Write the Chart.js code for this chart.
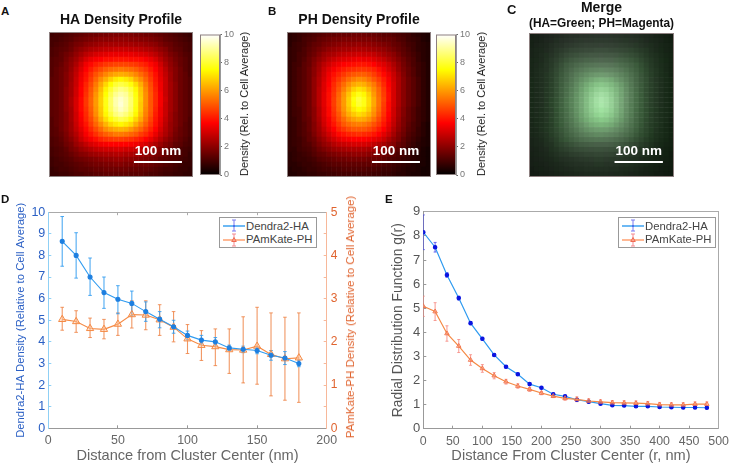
<!DOCTYPE html>
<html>
<head>
<meta charset="utf-8">
<script src="https://cdn.jsdelivr.net/npm/chart.js@4/dist/chart.umd.js"></script>
<style>
  html, body { margin: 0; padding: 0; background: #fff; }
  body { width: 737px; height: 463px; position: relative; overflow: hidden; font-family: "Liberation Sans", Arial, sans-serif; }
  canvas { position: absolute; }
  .mapa { filter: blur(0.5px); }
  .letra { position: absolute; font-weight: bold; color: #111; font-size: 11.5px; line-height: 12px; }
  .vlabel { position: absolute; white-space: nowrap; transform: translate(-50%, -50%) rotate(-90deg); }
  .legenda { position: absolute; box-sizing: border-box; background: #fff; border: 1px solid #999; width: 98px; height: 31px; font-size: 11.3px; color: #444; z-index: 5; }
  .legenda div { position: absolute; left: 26px; line-height: 13px; white-space: nowrap; }
  .legenda svg { position: absolute; left: 2px; top: 0; }
</style>
</head>
<body>
<canvas id="heatA" class="mapa" width="153" height="178" style="left:49px;top:0"></canvas>
<canvas id="barA" width="56" height="160" style="left:200px;top:25px"></canvas>
<canvas id="heatB" class="mapa" width="150" height="178" style="left:287px;top:0"></canvas>
<canvas id="barB" width="56" height="160" style="left:436px;top:25px"></canvas>
<canvas id="heatC" class="mapa" width="148" height="178" style="left:529px;top:0"></canvas>
<canvas id="chartD" width="365" height="265" style="left:0;top:198px"></canvas>
<canvas id="chartE" width="367" height="265" style="left:370px;top:198px"></canvas>

<div class="letra" style="left:1px;top:5px">A</div>
<div class="letra" style="left:268px;top:5px">B</div>
<div class="letra" style="left:507px;top:4px;font-size:13px">C</div>
<div class="letra" style="left:1px;top:193px">D</div>
<div class="letra" style="left:385px;top:193px">E</div>

<div class="vlabel" style="left:244px;top:104px;font-size:11px;color:#222">Density (Rel. to Cell Average)</div>
<div class="vlabel" style="left:481px;top:104px;font-size:11px;color:#222">Density (Rel. to Cell Average)</div>
<div class="vlabel" style="left:350px;top:317px;font-size:11.5px;color:#e0642f">PAmKate-PH Density (Relative to Cell Average)</div>

<div class="legenda" style="left:219px;top:217px">
  <svg width="24" height="29"><line x1="1" x2="23" y1="8" y2="8" stroke="#2f9bf0" stroke-width="1.4"/><path d="M12 2V13M10 2H14M10 13H14" stroke="#7a7af0" stroke-width="1" fill="none"/><circle cx="12" cy="8" r="0.8" fill="#2040e0"/>
  <line x1="1" x2="23" y1="22" y2="22" stroke="#ff9a66" stroke-width="1.4"/><path d="M12 16V28M10 16H14M10 28H14" stroke="#f58a90" stroke-width="1" fill="none"/><path d="M12 19.5L14.3 23.5H9.7Z" stroke="#f06a50" fill="none"/></svg>
  <div style="top:2px">Dendra2-HA</div>
  <div style="top:15px">PAmKate-PH</div>
</div>
<div class="legenda" style="left:618px;top:217px">
  <svg width="24" height="29"><line x1="1" x2="23" y1="8" y2="8" stroke="#2f9bf0" stroke-width="1.4"/><path d="M12 2V13M10 2H14M10 13H14" stroke="#7a7af0" stroke-width="1" fill="none"/><circle cx="12" cy="8" r="0.8" fill="#2040e0"/>
  <line x1="1" x2="23" y1="22" y2="22" stroke="#ff9a66" stroke-width="1.4"/><path d="M12 16V28M10 16H14M10 28H14" stroke="#f58a90" stroke-width="1" fill="none"/><path d="M12 19.5L14.3 23.5H9.7Z" stroke="#f06a50" fill="none"/></svg>
  <div style="top:2px">Dendra2-HA</div>
  <div style="top:15px">PAmKate-PH</div>
</div>

<script>
// painel D
var distD = [10,20,30,40,50,60,70,80,90,100,110,120,130,140,150,160,170,180];
var haD = [8.65,8.0,7.0,6.28,5.97,5.78,5.4,5.05,4.7,4.3,4.08,4.0,3.72,3.66,3.6,3.38,3.25,3.0];
var haLow = [7.5,6.95,6.15,5.55,5.3,5.2,4.95,4.65,4.4,4.1,3.9,3.85,3.6,3.5,3.45,3.15,2.95,2.85];
var haHigh = [9.8,9.05,7.88,7.0,6.6,6.35,5.85,5.4,5.0,4.5,4.3,4.2,3.85,3.8,3.75,3.6,3.55,3.15];
var phD = [2.52,2.47,2.31,2.29,2.41,2.63,2.62,2.51,2.34,2.07,1.92,1.89,1.82,1.81,1.9,1.71,1.61,1.63];
var phLow = [2.27,2.22,2.1,2.07,2.15,2.32,2.28,2.15,2.0,1.73,1.57,1.45,1.27,1.05,1.02,0.75,0.65,0.6];
var phHigh = [2.8,2.72,2.55,2.52,2.67,2.95,2.95,2.86,2.7,2.4,2.26,2.3,2.3,2.58,2.8,2.67,2.57,2.67];

// painel E
var distE = [0,20,40,60,80,100,120,140,160,180,200,220,240,260,280,300,320,340,360,380,400,420,440,460,480];
var haE = [8.15,7.53,6.38,5.42,4.38,3.73,3.06,2.57,2.26,1.85,1.7,1.43,1.34,1.2,1.12,1.04,0.97,0.96,0.93,0.93,0.9,0.89,0.88,0.88,0.87];
var haErrE = [0.72,0.2,0.1,0.08,0.06,0.06,0.05,0.05,0.05,0.05,0.04,0.04,0.04,0.04,0.04,0.04,0.04,0.04,0.03,0.03,0.03,0.03,0.03,0.03,0.03];
var phE = [5.08,4.86,3.95,3.43,2.85,2.5,2.2,1.95,1.77,1.63,1.48,1.35,1.26,1.22,1.15,1.11,1.08,1.07,1.06,1.04,1.0,0.99,0.99,1.02,1.02];
var phErrE = [0.42,0.37,0.32,0.27,0.22,0.16,0.13,0.1,0.09,0.08,0.07,0.06,0.08,0.1,0.09,0.09,0.09,0.09,0.09,0.09,0.09,0.09,0.09,0.09,0.09];

// mapas de densidade (29 x 29, de cima para baixo)
var densidadeHA = [
[0.9,1.0,1.0,1.1,1.2,1.3,1.4,1.5,1.6,1.6,1.7,1.7,1.8,1.8,1.8,1.8,1.8,1.7,1.7,1.6,1.6,1.5,1.4,1.3,1.2,1.1,1.0,0.9,0.8],
[1.0,1.0,1.1,1.2,1.3,1.5,1.6,1.7,1.8,1.9,2.0,2.0,2.0,2.1,2.1,2.1,2.0,2.0,1.9,1.9,1.8,1.7,1.6,1.4,1.3,1.2,1.1,1.0,0.9],
[1.0,1.1,1.2,1.3,1.5,1.7,1.8,2.0,2.1,2.2,2.3,2.4,2.4,2.4,2.4,2.4,2.4,2.3,2.3,2.2,2.1,2.0,1.8,1.6,1.5,1.3,1.2,1.1,1.0],
[1.1,1.2,1.3,1.4,1.6,1.9,2.1,2.3,2.5,2.6,2.7,2.8,2.8,2.9,2.9,2.9,2.8,2.8,2.7,2.6,2.5,2.3,2.1,1.9,1.6,1.4,1.3,1.1,1.0],
[1.1,1.2,1.4,1.6,1.8,2.1,2.4,2.7,2.9,3.1,3.2,3.3,3.4,3.4,3.4,3.4,3.4,3.3,3.2,3.1,2.9,2.7,2.4,2.1,1.8,1.6,1.4,1.2,1.1],
[1.2,1.3,1.4,1.7,2.0,2.3,2.7,3.1,3.4,3.6,3.7,3.9,3.9,4.0,4.0,4.0,3.9,3.9,3.8,3.6,3.4,3.1,2.7,2.3,2.0,1.7,1.5,1.3,1.1],
[1.2,1.3,1.5,1.8,2.1,2.5,3.0,3.5,3.8,4.1,4.3,4.5,4.6,4.7,4.7,4.7,4.6,4.5,4.3,4.1,3.8,3.5,3.0,2.5,2.1,1.8,1.5,1.3,1.1],
[1.2,1.4,1.6,1.8,2.2,2.7,3.2,3.7,4.1,4.5,4.8,5.1,5.3,5.4,5.5,5.4,5.3,5.1,4.8,4.5,4.1,3.7,3.2,2.7,2.2,1.9,1.6,1.3,1.1],
[1.2,1.4,1.6,1.9,2.3,2.8,3.4,3.9,4.4,4.9,5.3,5.7,6.0,6.2,6.3,6.2,6.0,5.7,5.3,4.9,4.4,3.9,3.3,2.8,2.3,1.9,1.6,1.4,1.1],
[1.3,1.4,1.6,1.9,2.3,2.9,3.5,4.0,4.6,5.2,5.8,6.3,6.8,7.2,7.4,7.2,6.9,6.3,5.8,5.2,4.6,4.0,3.4,2.9,2.3,1.9,1.6,1.4,1.2],
[1.3,1.4,1.6,1.9,2.4,2.9,3.6,4.2,4.8,5.5,6.2,6.9,7.5,8.0,8.2,8.0,7.6,7.0,6.3,5.5,4.8,4.1,3.5,2.9,2.4,2.0,1.6,1.4,1.2],
[1.3,1.4,1.6,2.0,2.4,3.0,3.7,4.3,5.0,5.7,6.5,7.3,8.0,8.5,8.8,8.6,8.1,7.4,6.6,5.7,4.9,4.2,3.5,2.9,2.4,2.0,1.6,1.4,1.2],
[1.3,1.4,1.6,2.0,2.4,3.0,3.7,4.4,5.1,5.9,6.7,7.5,8.3,8.9,9.2,9.0,8.4,7.6,6.7,5.8,5.0,4.3,3.6,2.9,2.4,2.0,1.6,1.4,1.2],
[1.3,1.4,1.6,2.0,2.5,3.1,3.8,4.5,5.2,6.0,6.8,7.7,8.5,9.2,9.5,9.2,8.6,7.7,6.8,5.8,5.0,4.3,3.6,3.0,2.4,2.0,1.6,1.4,1.2],
[1.3,1.4,1.6,2.0,2.5,3.1,3.8,4.5,5.2,6.0,6.8,7.7,8.5,9.2,9.6,9.2,8.6,7.7,6.7,5.8,5.0,4.3,3.6,2.9,2.4,2.0,1.6,1.4,1.2],
[1.3,1.4,1.6,2.0,2.4,3.1,3.8,4.4,5.1,5.9,6.7,7.6,8.4,9.0,9.4,9.1,8.5,7.6,6.7,5.7,5.0,4.2,3.5,2.9,2.4,2.0,1.6,1.4,1.2],
[1.3,1.4,1.6,1.9,2.4,3.0,3.7,4.3,5.0,5.8,6.6,7.4,8.1,8.7,9.0,8.7,8.2,7.4,6.5,5.6,4.9,4.1,3.5,2.9,2.3,1.9,1.6,1.4,1.2],
[1.2,1.4,1.6,1.9,2.4,3.0,3.6,4.2,4.8,5.5,6.3,7.0,7.6,8.0,8.3,8.1,7.6,6.9,6.2,5.4,4.7,4.0,3.4,2.8,2.3,1.9,1.6,1.4,1.1],
[1.2,1.4,1.6,1.9,2.3,2.9,3.5,4.0,4.6,5.2,5.8,6.4,6.9,7.2,7.4,7.2,6.9,6.3,5.7,5.1,4.5,3.9,3.3,2.7,2.2,1.9,1.6,1.3,1.1],
[1.2,1.3,1.6,1.9,2.3,2.8,3.3,3.8,4.3,4.8,5.3,5.8,6.1,6.3,6.4,6.3,6.0,5.6,5.2,4.7,4.2,3.7,3.1,2.6,2.2,1.8,1.5,1.3,1.1],
[1.2,1.3,1.5,1.8,2.2,2.6,3.1,3.6,4.0,4.4,4.8,5.1,5.3,5.5,5.5,5.4,5.2,5.0,4.6,4.3,3.9,3.4,2.9,2.5,2.1,1.7,1.5,1.3,1.1],
[1.1,1.2,1.4,1.7,2.0,2.4,2.9,3.3,3.6,3.9,4.2,4.4,4.5,4.6,4.6,4.5,4.4,4.2,4.0,3.7,3.4,3.0,2.6,2.2,1.9,1.6,1.4,1.2,1.0],
[1.1,1.2,1.3,1.6,1.8,2.2,2.5,2.8,3.1,3.3,3.5,3.6,3.7,3.7,3.7,3.7,3.6,3.5,3.3,3.1,2.8,2.5,2.2,1.9,1.7,1.4,1.3,1.1,1.0],
[1.0,1.1,1.2,1.4,1.7,1.9,2.2,2.4,2.6,2.8,2.9,3.0,3.0,3.1,3.1,3.0,3.0,2.9,2.7,2.5,2.4,2.1,1.9,1.7,1.5,1.3,1.1,1.0,0.9],
[1.0,1.1,1.2,1.3,1.5,1.7,1.9,2.0,2.2,2.3,2.4,2.5,2.5,2.6,2.6,2.5,2.5,2.4,2.3,2.1,2.0,1.8,1.7,1.5,1.3,1.2,1.1,1.0,0.8],
[0.9,1.0,1.1,1.2,1.3,1.5,1.6,1.7,1.8,1.9,2.0,2.1,2.1,2.2,2.2,2.1,2.1,2.0,1.9,1.8,1.7,1.6,1.4,1.3,1.2,1.1,1.0,0.9,0.8],
[0.9,1.0,1.0,1.1,1.2,1.3,1.4,1.5,1.6,1.7,1.7,1.8,1.8,1.9,1.9,1.8,1.8,1.7,1.6,1.6,1.5,1.4,1.3,1.2,1.1,1.0,0.9,0.8,0.8],
[0.8,0.9,1.0,1.0,1.1,1.2,1.3,1.3,1.4,1.5,1.5,1.6,1.6,1.6,1.6,1.6,1.5,1.5,1.4,1.4,1.3,1.2,1.1,1.0,1.0,0.9,0.8,0.8,0.7],
[0.8,0.8,0.9,0.9,1.0,1.1,1.1,1.2,1.2,1.3,1.3,1.4,1.4,1.4,1.4,1.4,1.3,1.3,1.3,1.2,1.1,1.1,1.0,0.9,0.9,0.8,0.8,0.7,0.7]
];

var densidadePH = [
[0.6,0.7,0.8,0.9,1.0,1.1,1.2,1.3,1.4,1.4,1.5,1.5,1.5,1.6,1.6,1.6,1.5,1.5,1.4,1.3,1.3,1.2,1.1,1.0,0.9,0.7,0.6,0.5,0.4],
[0.6,0.7,0.8,1.0,1.1,1.2,1.4,1.5,1.6,1.7,1.7,1.8,1.8,1.8,1.8,1.8,1.8,1.7,1.6,1.5,1.5,1.4,1.2,1.1,0.9,0.8,0.7,0.5,0.4],
[0.6,0.8,0.9,1.0,1.2,1.4,1.5,1.7,1.8,1.9,2.0,2.1,2.1,2.1,2.2,2.1,2.1,2.0,1.9,1.8,1.7,1.5,1.4,1.2,1.0,0.9,0.7,0.6,0.5],
[0.7,0.8,0.9,1.1,1.3,1.5,1.7,1.9,2.1,2.2,2.3,2.4,2.4,2.5,2.5,2.5,2.4,2.3,2.2,2.1,1.9,1.7,1.5,1.3,1.1,0.9,0.7,0.6,0.5],
[0.7,0.8,1.0,1.1,1.4,1.6,1.9,2.2,2.4,2.5,2.7,2.8,2.9,2.9,3.0,2.9,2.9,2.8,2.6,2.4,2.2,2.0,1.7,1.4,1.2,1.0,0.8,0.6,0.5],
[0.7,0.8,1.0,1.2,1.5,1.8,2.1,2.4,2.7,2.9,3.1,3.2,3.3,3.4,3.5,3.4,3.4,3.2,3.0,2.8,2.5,2.2,1.9,1.6,1.3,1.1,0.8,0.6,0.5],
[0.7,0.9,1.0,1.3,1.5,1.9,2.3,2.7,3.0,3.3,3.5,3.7,3.8,3.9,4.0,4.0,3.9,3.7,3.4,3.2,2.9,2.5,2.1,1.7,1.4,1.1,0.9,0.7,0.5],
[0.7,0.9,1.1,1.3,1.6,2.0,2.4,2.9,3.3,3.6,3.9,4.1,4.3,4.4,4.5,4.5,4.4,4.2,3.9,3.5,3.1,2.7,2.2,1.8,1.5,1.2,0.9,0.7,0.5],
[0.7,0.9,1.1,1.3,1.6,2.0,2.5,3.0,3.5,3.9,4.2,4.5,4.8,5.0,5.1,5.1,4.9,4.6,4.2,3.8,3.4,2.9,2.4,1.9,1.5,1.2,0.9,0.7,0.5],
[0.7,0.9,1.1,1.3,1.6,2.1,2.6,3.1,3.6,4.1,4.5,4.9,5.3,5.6,5.8,5.7,5.4,5.0,4.6,4.1,3.6,3.0,2.5,2.0,1.6,1.3,1.0,0.7,0.5],
[0.7,0.9,1.1,1.3,1.6,2.1,2.6,3.2,3.7,4.3,4.8,5.3,5.8,6.2,6.4,6.3,5.9,5.5,4.9,4.3,3.7,3.1,2.5,2.0,1.6,1.3,1.0,0.7,0.5],
[0.7,0.9,1.1,1.3,1.6,2.1,2.7,3.2,3.8,4.4,5.0,5.6,6.2,6.8,7.1,6.9,6.4,5.8,5.2,4.5,3.8,3.1,2.5,2.0,1.6,1.3,1.0,0.7,0.5],
[0.7,0.9,1.1,1.3,1.6,2.1,2.7,3.3,3.9,4.5,5.2,5.9,6.6,7.3,7.7,7.4,6.8,6.0,5.3,4.6,3.9,3.1,2.5,2.0,1.6,1.3,1.0,0.7,0.5],
[0.7,0.9,1.1,1.3,1.6,2.1,2.7,3.3,3.9,4.6,5.3,6.0,6.8,7.6,8.1,7.7,7.0,6.2,5.4,4.7,3.9,3.1,2.5,2.0,1.6,1.3,1.0,0.7,0.5],
[0.7,0.9,1.1,1.3,1.6,2.1,2.7,3.3,3.9,4.6,5.3,6.0,6.8,7.5,8.0,7.7,7.0,6.2,5.4,4.6,3.8,3.1,2.5,2.0,1.6,1.3,1.0,0.7,0.5],
[0.7,0.9,1.0,1.3,1.6,2.0,2.6,3.2,3.8,4.5,5.2,5.9,6.6,7.2,7.5,7.3,6.8,6.0,5.3,4.5,3.8,3.0,2.4,1.9,1.5,1.2,0.9,0.7,0.5],
[0.7,0.9,1.0,1.3,1.6,2.0,2.6,3.2,3.8,4.4,5.0,5.7,6.3,6.7,7.0,6.8,6.4,5.8,5.1,4.4,3.7,3.0,2.4,1.9,1.5,1.2,0.9,0.7,0.5],
[0.7,0.8,1.0,1.3,1.5,2.0,2.5,3.1,3.6,4.2,4.8,5.3,5.8,6.1,6.3,6.2,5.9,5.4,4.8,4.2,3.6,2.9,2.3,1.8,1.5,1.2,0.9,0.7,0.5],
[0.7,0.8,1.0,1.2,1.5,1.9,2.4,3.0,3.5,4.0,4.5,5.0,5.3,5.5,5.6,5.5,5.3,4.9,4.5,4.0,3.4,2.8,2.2,1.8,1.4,1.1,0.9,0.6,0.4],
[0.7,0.8,1.0,1.2,1.5,1.9,2.3,2.8,3.3,3.7,4.2,4.5,4.8,5.0,5.0,5.0,4.8,4.5,4.1,3.7,3.2,2.6,2.1,1.7,1.3,1.1,0.8,0.6,0.4],
[0.7,0.8,1.0,1.2,1.4,1.8,2.2,2.6,3.0,3.4,3.8,4.0,4.2,4.3,4.4,4.3,4.2,4.0,3.7,3.3,2.9,2.4,1.9,1.6,1.2,1.0,0.8,0.6,0.4],
[0.7,0.8,0.9,1.1,1.4,1.6,2.0,2.3,2.7,3.0,3.3,3.5,3.6,3.7,3.7,3.7,3.6,3.4,3.2,2.9,2.5,2.1,1.8,1.4,1.1,0.9,0.7,0.5,0.4],
[0.7,0.8,0.9,1.1,1.2,1.5,1.8,2.1,2.3,2.6,2.8,2.9,3.0,3.1,3.1,3.1,3.0,2.8,2.6,2.4,2.1,1.9,1.5,1.3,1.0,0.8,0.6,0.5,0.4],
[0.7,0.7,0.9,1.0,1.1,1.3,1.6,1.8,2.0,2.2,2.3,2.4,2.5,2.5,2.5,2.5,2.4,2.3,2.2,2.0,1.8,1.6,1.3,1.1,0.9,0.7,0.6,0.4,0.3],
[0.6,0.7,0.8,0.9,1.0,1.2,1.4,1.5,1.7,1.8,1.9,2.0,2.0,2.1,2.1,2.1,2.0,1.9,1.8,1.6,1.5,1.3,1.1,1.0,0.8,0.6,0.5,0.4,0.3],
[0.6,0.7,0.8,0.8,0.9,1.0,1.2,1.3,1.4,1.5,1.6,1.6,1.7,1.7,1.7,1.7,1.6,1.6,1.5,1.4,1.2,1.1,1.0,0.8,0.7,0.6,0.5,0.4,0.3],
[0.6,0.6,0.7,0.8,0.8,0.9,1.0,1.1,1.2,1.3,1.3,1.4,1.4,1.4,1.4,1.4,1.4,1.3,1.2,1.1,1.0,0.9,0.8,0.7,0.6,0.5,0.4,0.4,0.3],
[0.5,0.6,0.6,0.7,0.8,0.8,0.9,1.0,1.0,1.1,1.1,1.2,1.2,1.2,1.2,1.2,1.1,1.1,1.0,0.9,0.9,0.8,0.7,0.6,0.5,0.5,0.4,0.3,0.3],
[0.5,0.5,0.6,0.6,0.7,0.7,0.8,0.8,0.9,0.9,1.0,1.0,1.0,1.0,1.0,1.0,1.0,0.9,0.9,0.8,0.8,0.7,0.6,0.6,0.5,0.4,0.4,0.3,0.3]
];

var barraEscalaX = [27, 127];
var barraEscalaY = [119, 119];
var colorbarTicks = [0, 2, 4, 6, 8, 10];

var fonte = '"Liberation Sans", Arial, sans-serif';
Chart.defaults.font.family = fonte;
Chart.defaults.animation = false;
Chart.defaults.responsive = false;
Chart.defaults.layout.autoPadding = false;
Chart.defaults.plugins.legend.display = false;
Chart.defaults.plugins.tooltip.enabled = false;

function limita(v) { return Math.max(0, Math.min(1, v)); }

// colormap "hot" do matlab
function corHot(v) {
    var r = limita(v / 3.7), g = limita((v - 3.7) / 3.8), b = limita((v - 7.5) / 2.5);
    return 'rgb(' + Math.round(r * 255) + ',' + Math.round(g * 255) + ',' + Math.round(b * 255) + ')';
}
function corMerge(ha, ph) {
    var m = Math.round(10 + ph * 20), g = Math.round(10 + ha * 23);
    return 'rgb(' + m + ',' + g + ',' + m + ')';
}

// celulas do mapa viram pontos quadrados, posicionados em nm
function celulas(nLinhas, corDaCelula) {
    var pts = [];
    var passo = 300 / nLinhas;
    for (var i = 0; i < nLinhas; i++) {
        for (var j = 0; j < nLinhas; j++) {
            pts.push({ x: -150 + (j + 0.5) * passo, y: -150 + (i + 0.5) * passo, cor: corDaCelula(i, j) });
        }
    }
    return pts;
}

var moldura = {
    id: 'moldura',
    afterDatasetsDraw: function(chart) {
        var a = chart.chartArea, ctx = chart.ctx;
        ctx.save();
        ctx.strokeStyle = '#8d8080';
        ctx.lineWidth = 1;
        ctx.strokeRect(a.left + 0.5, a.top + 0.5, a.right - a.left - 1, a.bottom - a.top - 1);
        ctx.restore();
    }
};
var rotuloEscala = {
    id: 'rotuloEscala',
    afterDatasetsDraw: function(chart) {
        var ctx = chart.ctx;
        ctx.save();
        ctx.fillStyle = '#fff';
        ctx.font = 'bold 13.5px ' + fonte;
        ctx.textAlign = 'center';
        ctx.textBaseline = 'middle';
        var x = chart.scales.x, y = chart.scales.y;
        ctx.fillText('100 nm', x.getPixelForValue((barraEscalaX[0] + barraEscalaX[1]) / 2), y.getPixelForValue(barraEscalaY[0]) - 11);
        ctx.restore();
    }
};

function criaMapa(id, pontos, direita, titulo, subtitulo) {
    new Chart(document.getElementById(id), {
        type: 'scatter',
        data: { datasets: [
            {
                data: [{ x: barraEscalaX[0], y: barraEscalaY[0] }, { x: barraEscalaX[1], y: barraEscalaY[1] }],
                showLine: true, borderColor: '#fff', borderWidth: 2, pointRadius: 0
            },
            {
                data: pontos,
                pointStyle: 'rect', pointRadius: 3.85, pointBorderWidth: 0,
                pointBackgroundColor: function(c) { return c.raw ? c.raw.cor : '#000'; }
            }
        ] },
        options: {
            layout: { padding: { right: direita, bottom: 1 } },
            scales: {
                x: { display: false, min: -150, max: 150 },
                y: { display: false, min: -150, max: 150, reverse: true }
            },
            plugins: subtitulo ? {
                title: { display: true, text: titulo, color: '#111', font: { size: 14, weight: 'bold' }, padding: { top: 0, bottom: 0 } },
                subtitle: { display: true, text: subtitulo, color: '#111', font: { size: 12, weight: 'bold' }, padding: { top: 0, bottom: 1.8 } }
            } : {
                title: { display: true, text: titulo, color: '#111', font: { size: 14, weight: 'bold' }, padding: { top: 12, bottom: 3.2 } }
            }
        },
        plugins: [moldura, rotuloEscala]
    });
}

function criaColorbar(id) {
    new Chart(document.getElementById(id), {
        type: 'bar',
        data: { labels: [''], datasets: [{
            data: [[colorbarTicks[0], colorbarTicks[colorbarTicks.length - 1]]],
            barPercentage: 1, categoryPercentage: 1, borderWidth: 0,
            backgroundColor: function(c) {
                var a = c.chart.chartArea;
                if (!a) return '#000';
                var g = c.chart.ctx.createLinearGradient(0, a.bottom, 0, a.top);
                [0, 1, 2, 3, 3.7, 5, 6, 7.5, 8.5, 10].forEach(function(v) { g.addColorStop(v / 10, corHot(v)); });
                return g;
            }
        }] },
        options: {
            layout: { padding: { top: 9.5, bottom: 10 } },
            scales: {
                x: { display: false },
                y: {
                    position: 'right', min: 0, max: 10,
                    grid: { drawOnChartArea: false, tickLength: 2, tickColor: '#666' },
                    border: { color: '#999' },
                    ticks: { stepSize: 2, color: '#777', font: { size: 9 }, padding: 2 },
                    afterFit: function(s) { s.width = 36; }
                }
            }
        },
        plugins: [moldura]
    });
}

criaMapa('heatA', celulas(29, function(i, j) { return corHot(densidadeHA[i][j]); }), 9, 'HA Density Profile');
criaMapa('heatB', celulas(29, function(i, j) { return corHot(densidadePH[i][j]); }), 6, 'PH Density Profile');
criaMapa('heatC', celulas(29, function(i, j) { return corMerge(densidadeHA[i][j], densidadePH[i][j]); }), 3, 'Merge', '(HA=Green; PH=Magenta)');
criaColorbar('barA');
criaColorbar('barB');

function pontos(xs, ys) {
    return xs.map(function(x, i) { return { x: x, y: ys[i] }; });
}
// barra de erro: dois pontos com traco e um buraco entre as barras
function barrasErro(xs, baixo, alto) {
    var pts = [];
    xs.forEach(function(x, i) {
        pts.push({ x: x, y: baixo[i] }, { x: x, y: alto[i] }, { x: x, y: null });
    });
    return pts;
}
function serieErro(xs, baixo, alto, cor, eixo, ordem, raio) {
    return {
        data: barrasErro(xs, baixo, alto), yAxisID: eixo, order: ordem, showLine: true, spanGaps: false,
        borderColor: cor, borderWidth: 1.1, pointStyle: 'line', pointRadius: raio, pointBorderColor: cor, pointBorderWidth: 1
    };
}
function eixoBaixo(max, passo, titulo, altura) {
    return {
        type: 'linear', position: 'bottom', min: 0, max: max,
        grid: { drawOnChartArea: false, tickLength: -3, tickColor: '#999' },
        border: { color: '#999' },
        ticks: { stepSize: passo, color: '#666', font: { size: 12.4 }, padding: 8, maxRotation: 0, autoSkip: false },
        title: { display: true, text: titulo, color: '#666', font: { size: 14.6 }, padding: { bottom: -1.5 } },
        afterFit: function(s) { s.height = altura; }
    };
}

new Chart(document.getElementById('chartD'), {
    type: 'scatter',
    data: { datasets: [
        { data: pontos(distD, haD), yAxisID: 'y', order: 1, showLine: true, borderColor: '#2f9bf0', borderWidth: 1.1, pointRadius: 2, pointBackgroundColor: '#1d7fe0', pointBorderColor: '#1d7fe0' },
        { data: pontos(distD, phD), yAxisID: 'y2', order: 2, showLine: true, borderColor: '#f58a45', borderWidth: 1.1, pointStyle: 'triangle', pointRadius: 4.2, pointBackgroundColor: 'rgba(255,200,160,0.4)', pointBorderColor: '#f58a45', pointBorderWidth: 1 },
        serieErro(distD, haLow, haHigh, 'rgba(47,155,240,0.85)', 'y', 3, 1.8),
        serieErro(distD, phLow, phHigh, 'rgba(238,125,60,0.8)', 'y2', 4, 1.8)
    ] },
    options: {
        scales: {
            x: eixoBaixo(200, 50, 'Distance from Cluster Center (nm)', 34.7),
            x2: {
                type: 'linear', position: 'top', min: 0, max: 200,
                grid: { drawOnChartArea: false, tickLength: -3, tickColor: '#aaa' },
                border: { color: '#aaa' },
                ticks: { stepSize: 50, display: false },
                afterFit: function(s) { s.height = 11.3; }
            },
            y: {
                position: 'left', min: 0, max: 10,
                grid: { drawOnChartArea: false, tickLength: -3, tickColor: '#8fd0f5' },
                border: { color: '#8fd0f5' },
                ticks: { stepSize: 1, color: '#2a5fc4', font: { size: 12.5 }, padding: 6 },
                title: { display: true, text: 'Dendra2-HA Density (Relative to Cell Average)', color: '#2a5fc4', font: { size: 11.3 }, padding: { top: 14.2 } },
                afterFit: function(s) { s.width = 48.3; }
            },
            y2: {
                position: 'right', min: 0, max: 5,
                grid: { drawOnChartArea: false, tickLength: -3, tickColor: '#f7b89a' },
                border: { color: '#f7b89a' },
                ticks: {
                    stepSize: 0.5, color: '#e0642f', font: { size: 12 }, padding: 7, autoSkip: false,
                    callback: function(v) { return Number.isInteger(v) ? v : ''; }
                },
                afterFit: function(s) { s.width = 38.3; }
            }
        }
    }
});

new Chart(document.getElementById('chartE'), {
    type: 'scatter',
    data: { datasets: [
        { data: pontos(distE, haE), order: 2, showLine: true, borderColor: '#2f9bf0', borderWidth: 1.2, pointRadius: 1.7, pointBackgroundColor: '#0a14e0', pointBorderColor: '#0a14e0' },
        { data: pontos(distE, phE), order: 1, showLine: true, borderColor: '#f58a45', borderWidth: 1.2, pointStyle: 'triangle', pointRadius: 2.6, pointBackgroundColor: 'rgba(255,160,130,0.3)', pointBorderColor: '#f0704a', pointBorderWidth: 0.9 },
        serieErro(distE, haE.map(function(v, i) { return v - haErrE[i]; }), haE.map(function(v, i) { return v + haErrE[i]; }), 'rgba(60,60,235,0.75)', 'y', 3, 1.5),
        serieErro(distE, phE.map(function(v, i) { return v - phErrE[i]; }), phE.map(function(v, i) { return v + phErrE[i]; }), 'rgba(245,130,120,0.75)', 'y', 4, 1.5)
    ] },
    options: {
        scales: {
            x: eixoBaixo(500, 50, 'Distance From Cluster Center (r, nm)', 34.3),
            x2: {
                type: 'linear', position: 'top', min: 0, max: 500,
                grid: { display: false, drawTicks: false }, border: { color: '#aaa' },
                ticks: { display: false },
                afterFit: function(s) { s.height = 12; }
            },
            y: {
                position: 'left', min: 0, max: 9,
                grid: { drawOnChartArea: false, tickLength: -3, tickColor: '#999' },
                border: { color: '#999' },
                ticks: { stepSize: 1, color: '#555', font: { size: 13 }, padding: 6 },
                title: { display: true, text: 'Radial Distribution Function g(r)', color: '#555', font: { size: 13.8 }, padding: { top: 19.5 } },
                afterFit: function(s) { s.width = 53.3; }
            },
            y2: {
                position: 'right', min: 0, max: 9,
                grid: { display: false, drawTicks: false }, border: { color: '#aaa' },
                ticks: { display: false },
                afterFit: function(s) { s.width = 10.7; }
            }
        }
    }
});
</script>
</body>
</html>
